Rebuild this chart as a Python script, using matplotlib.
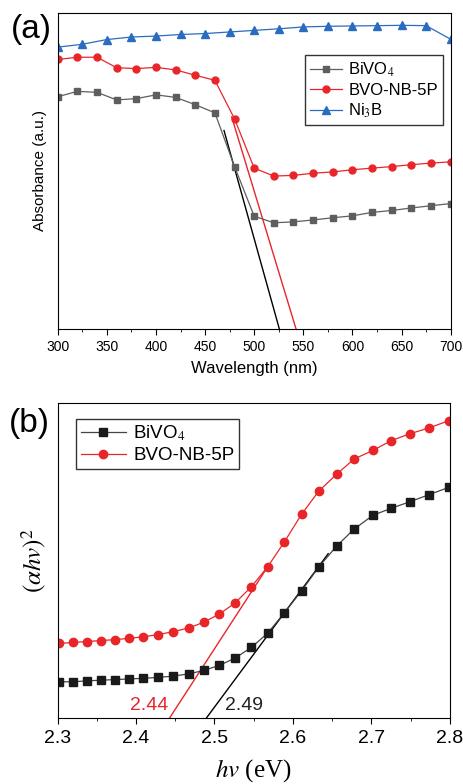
import numpy as np
import matplotlib
matplotlib.use('Agg')
import matplotlib.pyplot as plt
from matplotlib.ticker import MultipleLocator

plt.rcParams['font.family'] = ['Liberation Sans', 'DejaVu Sans']
plt.rcParams['mathtext.fontset'] = 'stix'

# panel (a): UV-vis absorbance
wl = [300, 320, 340, 360, 380, 400, 420, 440, 460, 480, 500,
      520, 540, 560, 580, 600, 620, 640, 660, 680, 700]
bivo4_abs = [0.735, 0.752, 0.749, 0.725, 0.729, 0.741, 0.733, 0.710, 0.684, 0.514, 0.357,
             0.336, 0.339, 0.345, 0.352, 0.358, 0.369, 0.375, 0.383, 0.390, 0.397]
bvo_abs = [0.853, 0.860, 0.860, 0.827, 0.824, 0.828, 0.820, 0.803, 0.787, 0.665, 0.509,
           0.484, 0.486, 0.493, 0.497, 0.504, 0.509, 0.514, 0.520, 0.525, 0.529]
wl_ni = [300, 325, 350, 375, 400, 425, 450, 475, 500, 525, 550, 575, 600, 625, 650, 675, 700]
ni3b_abs = [0.892, 0.901, 0.916, 0.924, 0.927, 0.932, 0.935, 0.940, 0.945, 0.950,
            0.956, 0.958, 0.959, 0.960, 0.961, 0.960, 0.917]
# band-edge tangents (start, end)
tan_bivo4_x = [469.3, 525.6]
tan_bivo4_y = [0.628, 0.0]
tan_bvo_x = [477.1, 542.6]
tan_bvo_y = [0.671, 0.0]

# panel (b): Tauc plot
hv = [2.302, 2.320, 2.337, 2.355, 2.373, 2.391, 2.409, 2.428, 2.447, 2.467, 2.486, 2.506, 2.526,
      2.547, 2.568, 2.589, 2.611, 2.633, 2.656, 2.678, 2.702, 2.725, 2.749, 2.774, 2.799]
bivo4_tauc = [0.114, 0.114, 0.117, 0.119, 0.121, 0.123, 0.125, 0.128, 0.132, 0.139, 0.150, 0.166, 0.189,
              0.223, 0.269, 0.333, 0.403, 0.479, 0.546, 0.599, 0.643, 0.665, 0.686, 0.709, 0.732]
bvo_tauc = [0.236, 0.239, 0.242, 0.245, 0.248, 0.252, 0.257, 0.264, 0.273, 0.285, 0.303, 0.329, 0.364,
            0.416, 0.480, 0.558, 0.646, 0.720, 0.774, 0.822, 0.849, 0.880, 0.902, 0.921, 0.944]
fit_bivo4_x = [2.49, 2.645]
fit_bivo4_y = [0.0, 0.521]
fit_bvo_x = [2.443, 2.569]
fit_bvo_y = [0.0, 0.484]

red = '#e8262a'
grey = '#5e5e5e'
blue = '#2a6cc0'

fig = plt.figure(figsize=(4.63, 7.84), dpi=100)

ax1 = fig.add_axes([0.1246, 0.5804, 0.8488, 0.4030])
ax1.plot(tan_bivo4_x, tan_bivo4_y, color='black', lw=1.0)
ax1.plot(tan_bvo_x, tan_bvo_y, color=red, lw=1.0)
ax1.plot(wl, bivo4_abs, color=grey, lw=0.9, marker='s', ms=4.5, label='BiVO$_4$')
ax1.plot(wl, bvo_abs, color=red, lw=0.9, marker='o', ms=5, label='BVO-NB-5P')
ax1.plot(wl_ni, ni3b_abs, color=blue, lw=0.9, marker='^', ms=5.5, label='Ni$_3$B')
ax1.set_xlim(300, 700)
ax1.set_ylim(0, 1)
ax1.set_yticks([])
ax1.xaxis.set_major_locator(MultipleLocator(50))
ax1.xaxis.set_minor_locator(MultipleLocator(25))
ax1.tick_params(axis='x', which='major', length=4, labelsize=10, pad=4)
ax1.tick_params(axis='x', which='minor', length=2)
ax1.set_xlabel('Wavelength (nm)', fontsize=12, labelpad=5)
ax1.set_ylabel('Absorbance (a.u.)', fontsize=11, labelpad=8)
leg = ax1.legend(loc='upper right', bbox_to_anchor=(0.98, 0.866), borderaxespad=0, fontsize=12, frameon=True,
                 fancybox=False, edgecolor='black', handlelength=1.9, borderpad=0.3,
                 labelspacing=0.25, handletextpad=0.4)
leg.get_frame().set_linewidth(1.0)
fig.text(0.024, 0.982, '(a)', fontsize=24, va='top', ha='left')

ax2 = fig.add_axes([0.1246, 0.0846, 0.8467, 0.4014])
ax2.plot(fit_bivo4_x, fit_bivo4_y, color='black', lw=1.0)
ax2.plot(fit_bvo_x, fit_bvo_y, color=red, lw=1.0)
ax2.plot(hv, bivo4_tauc, color='#444444', lw=0.9, marker='s', ms=5.5, mfc='#1a1a1a', mec='#1a1a1a', label='BiVO$_4$')
ax2.plot(hv, bvo_tauc, color=red, lw=0.9, marker='o', ms=6, label='BVO-NB-5P')
ax2.text(2.441, 0.012, '2.44', color=red, fontsize=14, ha='right', va='bottom')
ax2.text(2.514, 0.012, '2.49', color='#222222', fontsize=14, ha='left', va='bottom')
ax2.set_xlim(2.3, 2.8)
ax2.set_ylim(0, 1)
ax2.set_yticks([])
ax2.xaxis.set_major_locator(MultipleLocator(0.1))
ax2.xaxis.set_minor_locator(MultipleLocator(0.05))
ax2.tick_params(axis='x', which='major', length=4, labelsize=14, pad=5)
ax2.tick_params(axis='x', which='minor', length=2)
ax2.set_xlabel(r'$hv$ (eV)', fontsize=18, family='Liberation Serif', labelpad=7)
ax2.set_ylabel(r'$(\alpha hv)^2$', fontsize=18, labelpad=6)
leg2 = ax2.legend(loc='upper left', bbox_to_anchor=(0.047, 0.949), borderaxespad=0, fontsize=13.5, frameon=True,
                  fancybox=False, edgecolor='black', handlelength=2.4, borderpad=0.25,
                  labelspacing=0.2, handletextpad=0.4)
leg2.get_frame().set_linewidth(1.0)
fig.text(0.02, 0.48, '(b)', fontsize=24, va='top', ha='left')

fig.savefig('out.png', dpi=100)
